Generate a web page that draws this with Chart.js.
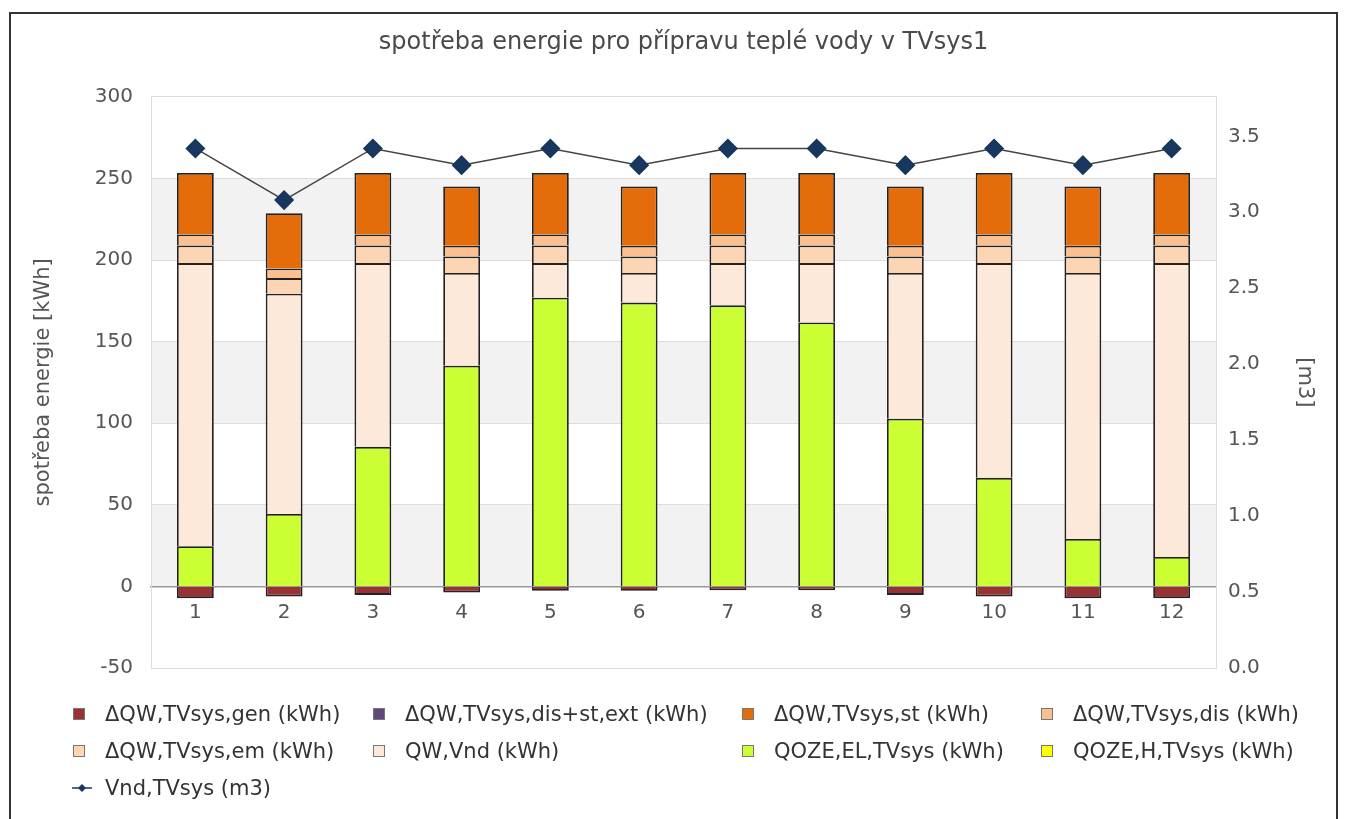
<!DOCTYPE html>
<html lang="cs">
<head>
<meta charset="utf-8">
<title>spotřeba energie pro přípravu teplé vody v TVsys1</title>
<script src="https://cdn.jsdelivr.net/npm/chart.js@4.4.1/dist/chart.umd.min.js"></script>
<style>
    html, body { margin: 0; padding: 0; background: #fff; }
    body { width: 1347px; height: 819px; position: relative; overflow: hidden; font-family: "DejaVu Sans", sans-serif; }
    #ramecek { position: absolute; left: 9px; top: 12px; width: 1329px; height: 830px; border: 2px solid #333; box-sizing: border-box; }
    #obal { position: absolute; left: 0; top: 0; width: 1347px; height: 819px; }
    #legenda { position: absolute; left: 0; top: 0; width: 1347px; height: 819px; }
    .polozka { position: absolute; height: 24px; line-height: 24px; font-size: 21px; color: #333; white-space: nowrap; }
    .polozka .text { position: absolute; left: 32px; top: 0; }
    .ctverec { position: absolute; left: 0; top: 6px; width: 12px; height: 12px; box-sizing: border-box; border: 1px solid #777; }
    .cara { position: absolute; left: -1px; top: 6px; }
</style>
</head>
<body>
<div id="ramecek"></div>
<div id="obal"><canvas id="graf"></canvas></div>
<div id="legenda"></div>
<script>
// hodnoty
var mesice = ['1', '2', '3', '4', '5', '6', '7', '8', '9', '10', '11', '12'];
var dQgen = [-7.2, -6.2, -5.2, -3.7, -2.7, -2.7, -2.3, -2.3, -5.2, -6.2, -7.2, -7.2];
var dQdisStExt = [0, 0, 0, 0, 0, 0, 0, 0, 0, 0, 0, 0];
var dQst = [37.6, 33.9, 37.6, 36.3, 37.6, 36.3, 37.6, 37.6, 36.3, 37.6, 36.3, 37.6];
var dQdis = [6.8, 5.9, 6.8, 6.6, 6.8, 6.6, 6.8, 6.8, 6.6, 6.8, 6.6, 6.8];
var dQem = [10.8, 9.6, 10.8, 10.2, 10.8, 10.2, 10.8, 10.8, 10.2, 10.8, 10.2, 10.8];
var qwVnd = [173.5, 134.9, 112.6, 56.8, 21.2, 18.1, 25.9, 36.4, 89.2, 131.6, 163.0, 180.1];
var qozeEl = [24.6, 44.4, 85.5, 135.2, 176.9, 173.9, 172.2, 161.7, 102.8, 66.5, 29.0, 18.0];
var qozeH = [0, 0, 0, 0, 0, 0, 0, 0, 0, 0, 0, 0];
var vnd = [3.42, 3.08, 3.42, 3.31, 3.42, 3.31, 3.42, 3.42, 3.31, 3.42, 3.31, 3.42];
var praveTicks = [0, 0.5, 1, 1.5, 2, 2.5, 3, 3.5];

Chart.defaults.font.family = '"DejaVu Sans", sans-serif';

// jeden sloupcový dataset
function sloupec(label, data, barva, poradi) {
    return {
        type: 'bar',
        label: label,
        data: data,
        backgroundColor: barva,
        borderColor: '#222',
        borderWidth: 1.8,
        borderSkipped: 'start',
        yAxisID: 'y',
        order: poradi,
        barPercentage: 0.415,
        categoryPercentage: 1
    };
}

// šedé pruhy v ploše grafu
var pasy = {
    id: 'pasy',
    beforeDraw: function (chart) {
        var ctx = chart.ctx;
        var area = chart.chartArea;
        var y = chart.scales.y;
        ctx.save();
        ctx.fillStyle = '#f2f2f2';
        for (var i = 1; i < y.ticks.length - 1; i += 2) {
            var top = y.getPixelForValue(y.ticks[i + 1].value);
            var bottom = y.getPixelForValue(y.ticks[i].value);
            ctx.fillRect(area.left, top, area.right - area.left, bottom - top);
        }
        ctx.restore();
    }
};

var graf = new Chart('graf', {
    data: {
        labels: mesice,
        datasets: [
            sloupec('ΔQW,TVsys,gen (kWh)', dQgen, '#993333', 1),
            sloupec('ΔQW,TVsys,dis+st,ext (kWh)', dQdisStExt, '#60497a', 2),
            sloupec('ΔQW,TVsys,st (kWh)', dQst, '#e46c0a', 8),
            sloupec('ΔQW,TVsys,dis (kWh)', dQdis, '#fac090', 7),
            sloupec('ΔQW,TVsys,em (kWh)', dQem, '#fcd5b5', 6),
            sloupec('QW,Vnd (kWh)', qwVnd, '#fde9d9', 5),
            sloupec('QOZE,EL,TVsys (kWh)', qozeEl, '#ccff33', 3),
            sloupec('QOZE,H,TVsys (kWh)', qozeH, '#ffff00', 4),
            {
                type: 'line',
                label: 'Vnd,TVsys (m3)',
                data: vnd,
                yAxisID: 'y1',
                order: 0,
                borderColor: '#444',
                borderWidth: 1.5,
                backgroundColor: '#17375e',
                pointStyle: 'rectRot',
                pointRadius: 9,
                pointBackgroundColor: '#17375e',
                pointBorderColor: '#17375e',
                tension: 0
            }
        ]
    },
    options: {
        responsive: true,
        maintainAspectRatio: false,
        animation: false,
        layout: { padding: { top: 0, left: 0, right: 0, bottom: 151 } },
        plugins: {
            legend: { display: false },
            tooltip: { enabled: false },
            title: {
                display: true,
                fullSize: false,
                text: 'spotřeba energie pro přípravu teplé vody v TVsys1',
                color: '#4a4a4a',
                font: { size: 24, weight: 'normal' },
                padding: { top: 28, bottom: 40 }
            }
        },
        scales: {
            x: {
                stacked: true,
                position: { y: 0 },
                grid: { display: false, drawTicks: false },
                border: { display: true, color: '#999', width: 1.5 },
                ticks: { color: '#555', font: { size: 20 }, padding: 14 }
            },
            y: {
                stacked: true,
                position: 'left',
                min: -50,
                max: 300,
                afterFit: function (s) { s.width = 151; },
                grid: { color: '#ddd', drawTicks: false },
                border: { color: '#ddd' },
                ticks: { stepSize: 50, color: '#555', font: { size: 20 }, padding: 18 },
                title: {
                    display: true,
                    text: 'spotřeba energie [kWh]',
                    color: '#555',
                    font: { size: 21 },
                    padding: { top: 31, bottom: 0 }
                }
            },
            y1: {
                position: 'right',
                min: 0,
                max: 3.76,
                afterFit: function (s) { s.width = 131; },
                afterBuildTicks: function (s) {
                    s.ticks = praveTicks.map(function (v) { return { value: v }; });
                },
                grid: { display: false, drawTicks: false },
                border: { color: '#ddd' },
                ticks: {
                    color: '#555',
                    font: { size: 20 },
                    padding: 12,
                    callback: function (v) { return v.toFixed(1); }
                },
                title: {
                    display: true,
                    text: '[m3]',
                    color: '#555',
                    font: { size: 21 },
                    padding: { top: 30, bottom: 0 }
                }
            }
        }
    },
    plugins: [pasy]
});

// legenda ve čtyřech sloupcích
function legenda(chart) {
    var sloupceX = [105, 405, 774, 1073];
    var radkyY = [714, 751, 788];
    var box = document.getElementById('legenda');
    chart.data.datasets.forEach(function (ds, i) {
        var el = document.createElement('div');
        el.className = 'polozka';
        el.style.left = (sloupceX[i % 4] - 32) + 'px';
        el.style.top = (radkyY[Math.floor(i / 4)] - 12) + 'px';
        var symbol;
        if (ds.type === 'line') {
            symbol = '<svg class="cara" width="20" height="12">' +
                '<line x1="0" y1="6" x2="20" y2="6" stroke="#17375e" stroke-width="1.5"/>' +
                '<polygon points="10,2 14,6 10,10 6,6" fill="#17375e"/></svg>';
        } else {
            symbol = '<span class="ctverec" style="background:' + ds.backgroundColor + '"></span>';
        }
        el.innerHTML = symbol + '<span class="text">' + ds.label + '</span>';
        box.appendChild(el);
    });
}
legenda(graf);
</script>
</body>
</html>
